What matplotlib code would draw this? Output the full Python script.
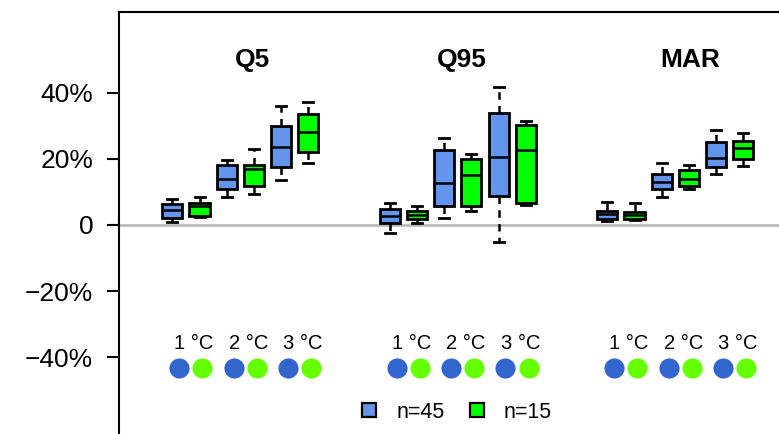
import matplotlib
matplotlib.use("Agg")
import matplotlib.pyplot as plt
from matplotlib.patches import Patch
from matplotlib.ticker import FuncFormatter

plt.rcParams['font.family'] = ['Liberation Sans', 'DejaVu Sans']

# data: five-number summaries (whisker low, Q1, median, Q3, whisker high) in %
metrics = ["Q5", "Q95", "MAR"]
temps = ["1 °C", "2 °C", "3 °C"]
series_labels = ["n=45", "n=15"]

q5_n45 = [[1.0, 2.1, 4.5, 6.3, 7.9], [8.6, 10.8, 13.8, 18.1, 19.7], [13.6, 17.7, 23.5, 30.0, 35.9]]
q5_n15 = [[2.3, 2.7, 5.6, 6.6, 8.6], [9.3, 11.8, 16.9, 18.2, 22.9], [18.9, 22.2, 28.1, 33.5, 37.1]]
q95_n45 = [[-2.3, 0.7, 2.7, 4.7, 6.6], [2.2, 5.8, 12.8, 22.7, 26.3], [-5.1, 8.8, 20.7, 34.0, 41.9]]
q95_n15 = [[0.7, 1.7, 3.0, 4.3, 5.8], [4.3, 5.8, 15.1, 20.1, 21.5], [6.0, 6.6, 22.7, 30.2, 31.6]]
mar_n45 = [[1.1, 1.7, 3.2, 4.2, 7.0], [8.6, 10.8, 13.1, 15.4, 18.7], [15.5, 17.7, 20.2, 25.1, 28.8]]
mar_n15 = [[1.5, 1.7, 3.0, 3.9, 6.8], [10.8, 11.8, 13.8, 16.7, 18.2], [18.0, 20.0, 23.2, 25.5, 27.8]]

groups = [(q5_n45, q5_n15), (q95_n45, q95_n15), (mar_n45, mar_n15)]
yticks = [-40, -20, 0, 20, 40]

box_colors = ["#6495ED", "#00FF00"]
dot_colors = ["#3366CC", "#66FF00"]
title_shift = [0.46, 0.13, 0.54]

fig = plt.figure(figsize=(7.79, 4.34), dpi=100)
ax = fig.add_axes([119 / 779, 0, 1 - 119 / 779 + 0.01, (434 - 12) / 434])

ax.axhline(0, color="#B4B4B4", lw=1.8, zorder=0)

for g, (s45, s15) in enumerate(groups):
    base = 1 + 8 * g
    for s, data in enumerate((s45, s15)):
        stats = []
        pos = []
        for t, (lo, q1, med, q3, hi) in enumerate(data):
            stats.append(dict(whislo=lo, q1=q1, med=med, q3=q3, whishi=hi, fliers=[]))
            pos.append(base + 2 * t + s)
        ax.bxp(stats, positions=pos, widths=0.74, patch_artist=True,
               showfliers=False, capwidths=0.37,
               boxprops=dict(facecolor=box_colors[s], edgecolor="black", linewidth=2.0),
               medianprops=dict(color="black", linewidth=1.8),
               whiskerprops=dict(color="black", linewidth=1.8, linestyle=(0, (3, 2.5))),
               capprops=dict(color="black", linewidth=2.0),
               manage_ticks=False)
    ax.text(base + 2.5 + title_shift[g], 50, metrics[g], ha="center", va="center",
            fontsize=19, fontweight="bold")
    for t, lab in enumerate(temps):
        p = base + 2 * t
        ax.text(p + 0.8, -35.8, lab, ha="center", va="center", fontsize=14.5)
        ax.plot(p + 0.25, -43.3, "o", ms=14.5, color=dot_colors[0], mec="none")
        ax.plot(p + 1.1, -43.3, "o", ms=14.5, color=dot_colors[1], mec="none")

ax.set_xlim(-0.963, 23.6)
ax.set_ylim(-63.3, 64.5)
ax.set_yticks(yticks)
ax.yaxis.set_major_formatter(FuncFormatter(lambda v, p: "0" if v == 0 else f"{int(v)}%".replace("-", "\u2212")))
ax.tick_params(axis="y", labelsize=19, length=8.5, width=1.5, pad=10)
ax.set_xticks([])
ax.spines["bottom"].set_visible(False)
ax.spines["right"].set_visible(False)
for side in ("left", "top"):
    ax.spines[side].set_linewidth(1.5)

handles = [Patch(facecolor=c, edgecolor="black", linewidth=1.6) for c in box_colors]
fig.legend(handles, series_labels, loc="center", bbox_to_anchor=(457 / 779, 1 - 412 / 434),
           ncol=2, frameon=False, fontsize=15.5, handlelength=0.65, handleheight=0.65,
           handletextpad=0.93, columnspacing=1.16)

fig.savefig("out.png", dpi=100)
